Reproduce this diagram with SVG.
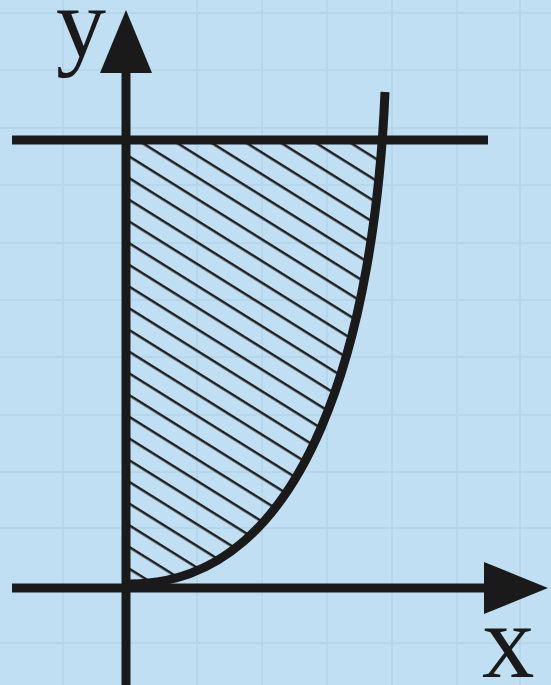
<svg xmlns="http://www.w3.org/2000/svg" width="551" height="685" viewBox="0 0 551 685">
<style>
.grid{stroke:#b2d3e8;stroke-width:2;opacity:0.7}
.ax{stroke:#1a1a1a;stroke-width:9;fill:none}
.lbl{font-family:"Liberation Serif","Times New Roman",serif;fill:#1a1a1a}
</style>
<defs>
<pattern id="hatch" patternUnits="userSpaceOnUse" width="20" height="18.4" patternTransform="rotate(32)">
<line x1="-5" y1="9" x2="25" y2="9" stroke="#1a1a1a" stroke-width="2.4"/>
</pattern>
<clipPath id="region">
<path d="M130,140 L130,586 C310,586 375,330 385,92 L385,140 Z"/>
</clipPath>
</defs>
<rect width="551" height="685" fill="#c0dff2"/>
<g id="grid" class="grid">
<line x1="63" y1="0" x2="63" y2="685"/>
<line x1="197" y1="0" x2="197" y2="685"/>
<line x1="262" y1="0" x2="262" y2="685"/>
<line x1="327" y1="0" x2="327" y2="685"/>
<line x1="392" y1="0" x2="392" y2="685"/>
<line x1="457" y1="0" x2="457" y2="685"/>
<line x1="520" y1="0" x2="520" y2="685"/>
<line x1="0" y1="13" x2="551" y2="13"/>
<line x1="0" y1="70" x2="551" y2="70"/>
<line x1="0" y1="128" x2="551" y2="128"/>
<line x1="0" y1="185" x2="551" y2="185"/>
<line x1="0" y1="243" x2="551" y2="243"/>
<line x1="0" y1="300" x2="551" y2="300"/>
<line x1="0" y1="357" x2="551" y2="357"/>
<line x1="0" y1="415" x2="551" y2="415"/>
<line x1="0" y1="472" x2="551" y2="472"/>
<line x1="0" y1="528" x2="551" y2="528"/>
<line x1="0" y1="643" x2="551" y2="643"/>
</g>
<g id="hatched-region">
<rect x="125" y="85" width="270" height="510" fill="url(#hatch)" clip-path="url(#region)"/>
</g>
<g id="connectors">
<line id="y-axis" class="ax" x1="126" y1="685" x2="126" y2="70"/>
<polygon points="126,10 100,73 152,73" fill="#1a1a1a"/>
<line id="x-axis" class="ax" x1="12" y1="588" x2="488" y2="588"/>
<polygon points="548,588 484,562 484,614" fill="#1a1a1a"/>
<line id="top-line" class="ax" x1="12" y1="140" x2="488" y2="140"/>
<path id="curve" class="ax" stroke-width="8" d="M128,584 C310,586 375,330 385,92"/>
</g>
<g id="label-y"><text class="lbl" x="56" y="57" font-size="100">y</text></g>
<g id="label-x"><text class="lbl" x="482" y="677" font-size="105">x</text></g>
</svg>
